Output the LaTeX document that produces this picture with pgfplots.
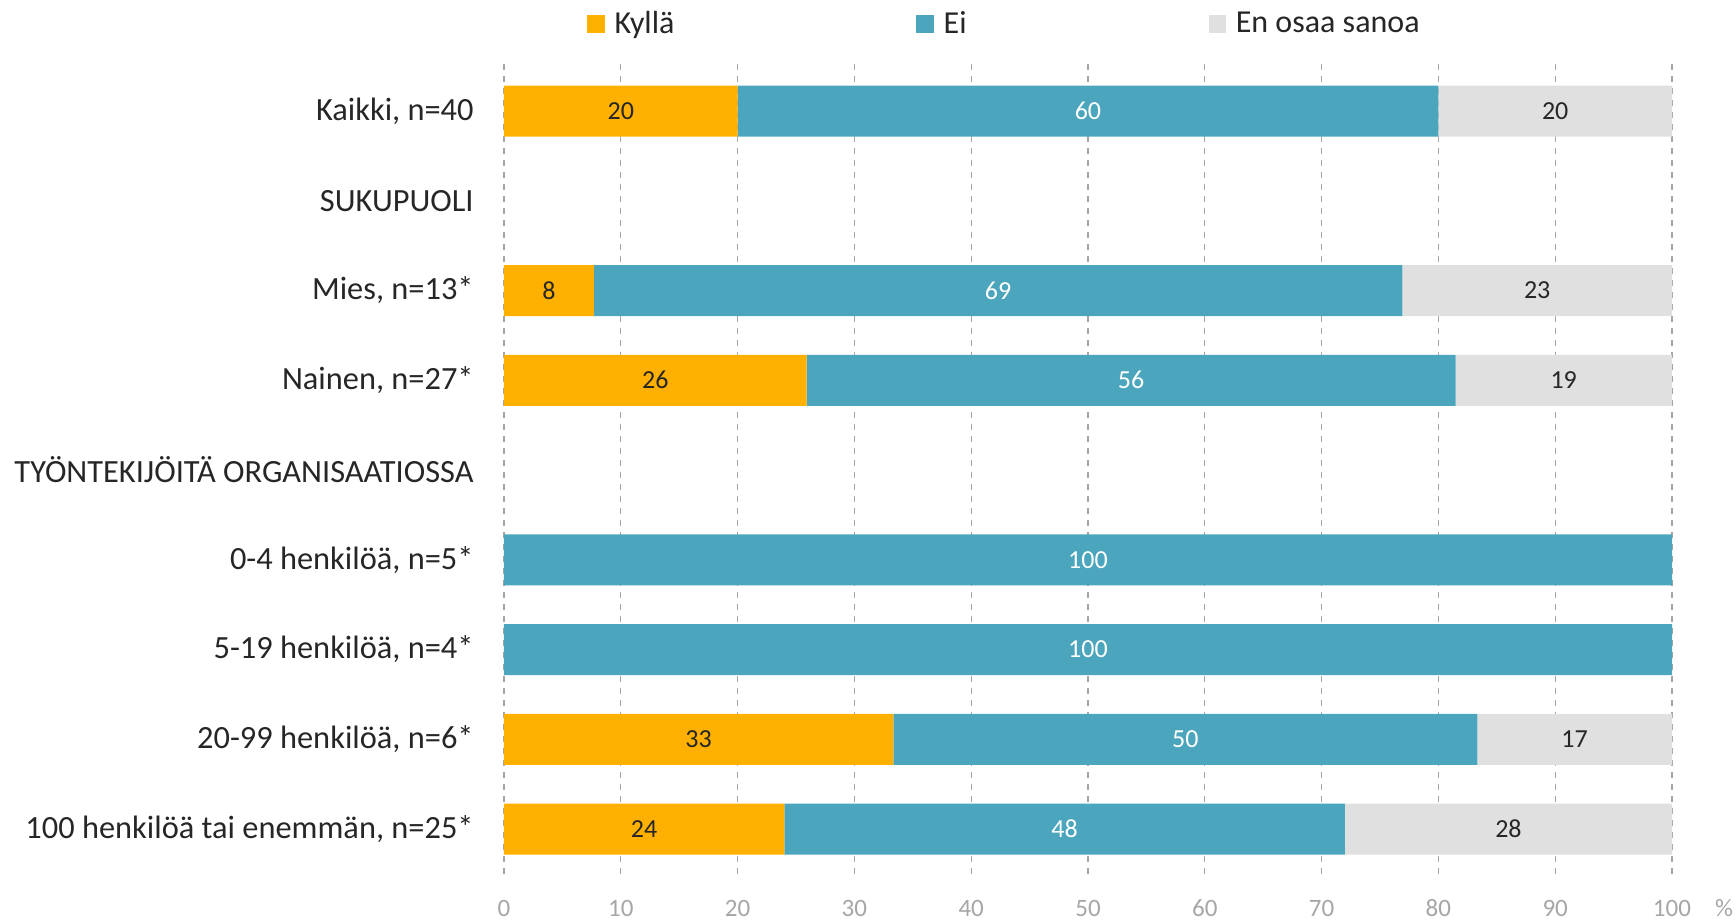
\documentclass[border=0pt]{standalone}
\usepackage{fontspec}
\setmainfont{Carlito}
\usepackage{pgfplots}
\usepackage{pgfplotstable}
\pgfplotsset{compat=1.18}

\definecolor{kyl}{RGB}{255,176,0}
\definecolor{eic}{RGB}{75,166,189}
\definecolor{eos}{RGB}{224,224,224}
\definecolor{txt}{RGB}{38,38,38}
\definecolor{tickc}{RGB}{166,166,166}

% shares in percent, rows 1 and 4 are section headings
\pgfplotstableread{
y kylla ei eos
0 20 60 20
2 7.69 69.23 23.08
3 25.92 55.55 18.52
5 0 100 0
6 0 100 0
7 33.33 50 16.67
8 24 48 28
}\data

\begin{document}
\begin{tikzpicture}
\begin{axis}[
  name=ax,
  scale only axis, width=584pt, height=408pt,
  xbar stacked, bar width=0.568,
  xmin=0, xmax=100, ymin=-0.524, ymax=8.568, y dir=reverse,
  axis line style={draw=none},
  major tick length=0,
  xtick={0,10,...,100},
  xmajorgrids,
  grid style={tickc, dash pattern=on 3pt off 3pt, line width=0.6pt},
  ytick={0,...,8},
  yticklabels={{Kaikki, n=40}, SUKUPUOLI, {Mies, n=13*}, {Nainen, n=27*}, TYÖNTEKIJÖITÄ ORGANISAATIOSSA, {0-4 henkilöä, n=5*}, {5-19 henkilöä, n=4*}, {20-99 henkilöä, n=6*}, {100 henkilöä tai enemmän, n=25*}},
  yticklabel style={anchor=east, inner sep=0pt, xshift=-15pt, font=\fontsize{16.2}{19}\selectfont, text=txt},
  xticklabel style={anchor=center, inner sep=0pt, yshift=-14pt, font=\fontsize{12.5}{15}\selectfont, text=tickc},
  /pgf/number format/assume math mode=true,
  xlabel={\%},
  xlabel style={at={(rel axis cs:1,0)}, anchor=center, inner sep=0pt, xshift=26pt, yshift=-14pt, font=\fontsize{12.5}{15}\selectfont, text=tickc},
  legend style={draw=none, fill=none, at={(0.066,1.049)}, anchor=west, legend columns=3,
    font=\fontsize{16}{19}\selectfont, text=txt,
    /tikz/every odd column/.append style={column sep=3pt},
    /tikz/every even column/.append style={column sep=119pt}},
  legend image code/.code={\fill[#1] (0pt,-4.3pt) rectangle (8.6pt,4.3pt);},
  point meta=rawx,
  nodes near coords={\pgfmathfloatifflags{\pgfplotspointmeta}{0}{}{\pgfmathprintnumber[fixed,precision=0]{\pgfplotspointmeta}}},
  every node near coord/.append style={anchor=center, font=\fontsize{13}{15}\selectfont},
]
\addplot[fill=kyl, draw=none, every node near coord/.append style={text=txt}] table[x=kylla, y=y]{\data};
\addplot[fill=eic, draw=none, every node near coord/.append style={text=white}] table[x=ei, y=y]{\data};
\addplot[fill=eos, draw=none, every node near coord/.append style={text=txt}] table[x=eos, y=y]{\data};
\legend{Kyllä, Ei, En osaa sanoa}
\end{axis}
\pgfresetboundingbox
\path[use as bounding box] (ax.south west) ++(-252pt,-20.5pt) rectangle ++(868pt,460.5pt);
\end{tikzpicture}
\end{document}
